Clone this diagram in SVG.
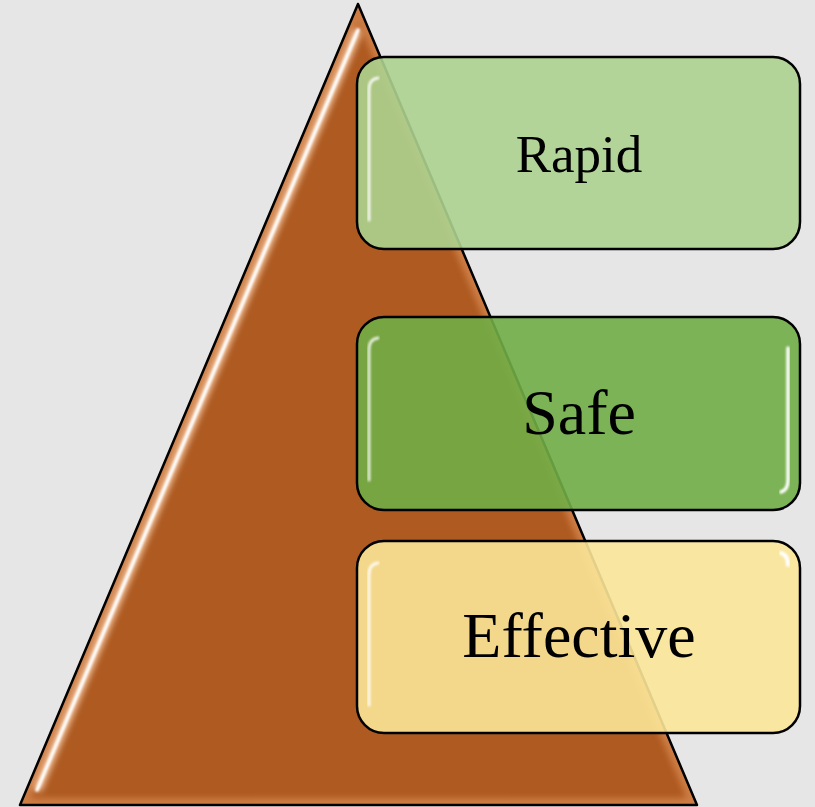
<svg xmlns="http://www.w3.org/2000/svg" width="815" height="807" viewBox="0 0 815 807">
  <style>
    .box { stroke: #000; stroke-width: 2.5; fill-opacity: 0.9; }
    .label { font-family: "Liberation Serif", "Times New Roman", serif; fill: #000; text-anchor: middle; }
    .hl { fill: none; stroke: #fff; stroke-linecap: round; }
  </style>
  <defs>
    <clipPath id="triClip">
      <polygon points="358,4 20,805 697,805"/>
    </clipPath>
    <filter id="soft" x="-20%" y="-20%" width="140%" height="140%">
      <feGaussianBlur stdDeviation="3"/>
    </filter>
    <filter id="softer" x="-20%" y="-20%" width="140%" height="140%">
      <feGaussianBlur stdDeviation="1.2"/>
    </filter>
  </defs>

  <rect width="815" height="807" fill="#e6e6e6"/>

  <!-- pyramid -->
  <g id="pyramid">
    <polygon points="358,4 20,805 697,805" fill="#ae5a21"/>
    <g clip-path="url(#triClip)">
      <polygon points="358,4 20,805 697,805" fill="none" stroke="#e79a62" stroke-width="14" opacity="0.55" filter="url(#soft)"/>
      <line x1="358" y1="30" x2="37" y2="790" stroke="#f7c9a3" stroke-width="9" filter="url(#soft)"/>
      <line x1="358" y1="30" x2="37" y2="790" class="hl" stroke-width="3.5" filter="url(#softer)"/>
    </g>
    <polygon points="358,4 20,805 697,805" fill="none" stroke="#000" stroke-width="2.5" stroke-linejoin="round"/>
  </g>

  <!-- tier boxes -->
  <g id="rapid">
    <rect class="box" x="357" y="57" width="443" height="192" rx="27" fill="#acd28f"/>
    <path class="hl" d="M369,220 V90 Q369,79 378,78" stroke-width="3" opacity="0.85" filter="url(#softer)"/>
    <path class="hl" d="M789,85 V225" stroke="#e9f6de" stroke-width="3" opacity="0.8" filter="url(#softer)"/>
    <text class="label" x="579" y="172" font-size="53">Rapid</text>
  </g>

  <g id="safe">
    <rect class="box" x="357" y="317" width="443" height="193" rx="27" fill="#70ad46"/>
    <path class="hl" d="M369,480 V350 Q369,339 378,338" stroke="#d9ecc8" stroke-width="3" opacity="0.8" filter="url(#softer)"/>
    <path class="hl" d="M788,348 V480 Q788,490 781,492" stroke="#f2ffe8" stroke-width="3.5" filter="url(#softer)"/>
    <text class="label" x="579" y="434" font-size="64">Safe</text>
  </g>

  <g id="effective">
    <rect class="box" x="357" y="541" width="443" height="192" rx="27" fill="#fbe698"/>
    <path class="hl" d="M369,705 V575 Q369,564 378,563" stroke-width="3" opacity="0.85" filter="url(#softer)"/>
    <path class="hl" d="M788,565 Q788,555 781,553" stroke-width="4" filter="url(#softer)"/>
    <text class="label" x="579" y="657" font-size="64">Effective</text>
  </g>
</svg>
